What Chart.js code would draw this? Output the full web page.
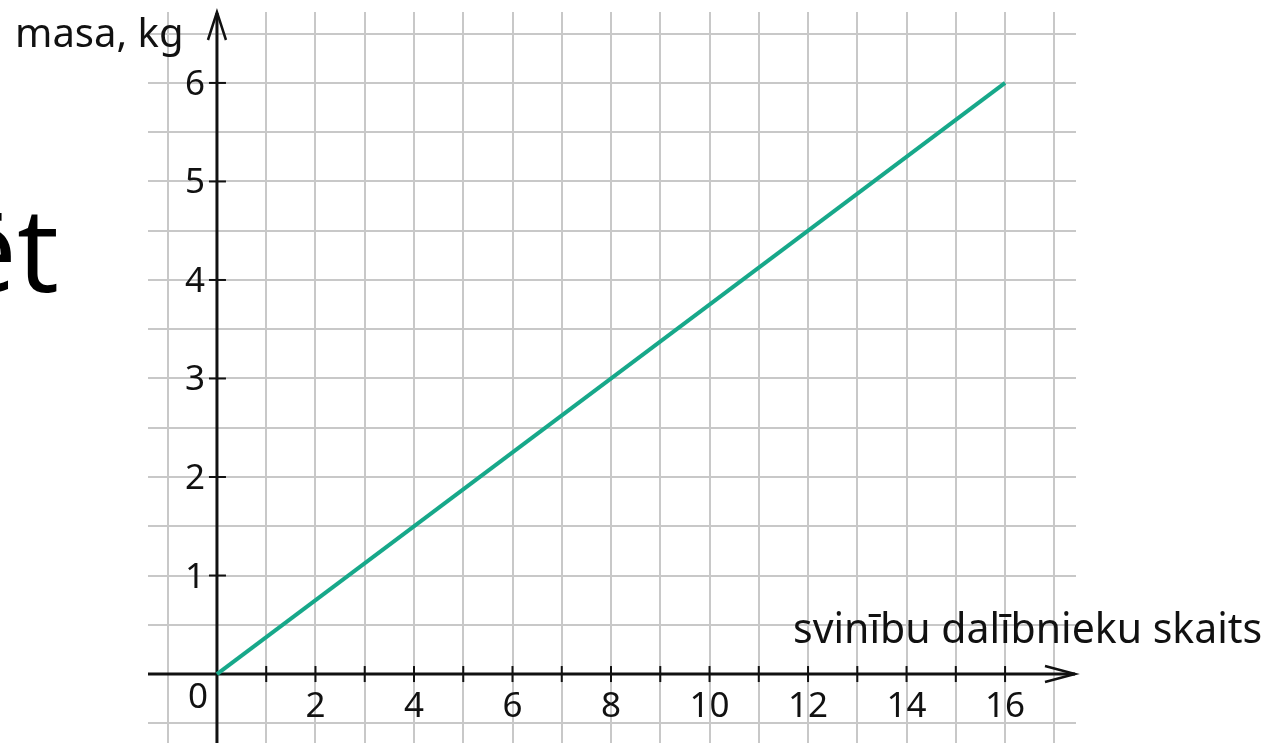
<!DOCTYPE html>
<html>
<head>
<meta charset="utf-8">
<script src="https://cdn.jsdelivr.net/npm/chart.js@4.4.1/dist/chart.umd.min.js"></script>
<style>
  html, body { margin: 0; padding: 0; background: #ffffff; overflow: hidden; }
  #wrap { position: relative; width: 1275px; height: 743px; }
  #chart { position: absolute; left: 0; top: 0; }
  #side { position: absolute; right: 1216px; top: 188px; font-family: "Open Sans", sans-serif;
          font-size: 118px; line-height: 1; color: #000; white-space: nowrap; }
</style>
</head>
<body>
<div id="wrap">
  <canvas id="chart" width="1275" height="743"></canvas>
  <div id="side">ēt</div>
</div>
<script>
// ---- data ----
const xValues = [0, 16];          // svinību dalībnieku skaits
const yValues = [0, 6];           // masa, kg
const xGridValues = [-1, 0, 1, 2, 3, 4, 5, 6, 7, 8, 9, 10, 11, 12, 13, 14, 15, 16, 17];
const yGridValues = [-0.5, 0, 0.5, 1, 1.5, 2, 2.5, 3, 3.5, 4, 4.5, 5, 5.5, 6, 6.5];
const xTickMarks = [1, 2, 3, 4, 5, 6, 7, 8, 9, 10, 11, 12, 13, 14, 15, 16];
const xTickLabels = [2, 4, 6, 8, 10, 12, 14, 16];
const yTickMarks = [1, 2, 3, 4, 5, 6];
const yTickLabels = [1, 2, 3, 4, 5, 6];
const xTitle = "svinību dalībnieku skaits";
const yTitle = "masa, kg";
const originLabel = "0";

const FONT = '"Noto Sans", sans-serif';

const axesPlugin = {
  id: 'axesPlugin',
  beforeDatasetsDraw(chart) {
    const ctx = chart.ctx;
    const xs = chart.scales.x, ys = chart.scales.y;
    const ca = chart.chartArea;
    const x0 = xs.getPixelForValue(0);
    const y0 = ys.getPixelForValue(0);
    ctx.save();
    ctx.strokeStyle = '#111';
    ctx.lineWidth = 3;
    ctx.lineCap = 'butt';
    // x axis
    ctx.beginPath();
    ctx.moveTo(ca.left, y0);
    ctx.lineTo(ca.right - 1, y0);
    ctx.stroke();
    // y axis
    ctx.beginPath();
    ctx.moveTo(x0, chart.height);
    ctx.lineTo(x0, ca.top + 1);
    ctx.stroke();
    // arrows
    ctx.lineWidth = 2.5;
    ctx.beginPath();
    ctx.moveTo(ca.right - 31, y0 - 8);
    ctx.lineTo(ca.right - 1, y0);
    ctx.lineTo(ca.right - 31, y0 + 8);
    ctx.stroke();
    ctx.beginPath();
    ctx.moveTo(x0 - 9, ca.top + 28);
    ctx.lineTo(x0, ca.top);
    ctx.lineTo(x0 + 9, ca.top + 28);
    ctx.stroke();
    // tick marks
    ctx.lineWidth = 2;
    xTickMarks.forEach(v => {
      const px = xs.getPixelForValue(v);
      ctx.beginPath(); ctx.moveTo(px, y0 - 8); ctx.lineTo(px, y0 + 8); ctx.stroke();
    });
    yTickMarks.forEach(v => {
      const py = ys.getPixelForValue(v);
      ctx.beginPath(); ctx.moveTo(x0 - 8, py); ctx.lineTo(x0 + 9, py); ctx.stroke();
    });
    // tick labels
    ctx.fillStyle = '#111';
    ctx.font = '35px ' + FONT;
    ctx.textBaseline = 'alphabetic';
    ctx.textAlign = 'center';
    xTickLabels.forEach(v => {
      ctx.fillText(String(v), xs.getPixelForValue(v), y0 + 43);
    });
    ctx.fillText(originLabel, x0 - 19, y0 + 34);
    ctx.textAlign = 'right';
    yTickLabels.forEach(v => {
      ctx.fillText(String(v), x0 - 12, ys.getPixelForValue(v) + 12);
    });
    // axis titles
    ctx.font = '40px ' + FONT;
    ctx.textAlign = 'left';
    ctx.fillText(yTitle, 15, 47);
    ctx.font = '41px ' + FONT;
    ctx.fillText(xTitle, 793, y0 - 31);
    ctx.restore();
  }
};

new Chart(document.getElementById('chart'), {
  type: 'line',
  data: {
    datasets: [{
      data: xValues.map((x, i) => ({ x: x, y: yValues[i] })),
      borderColor: '#17a88a',
      borderWidth: 4,
      pointRadius: 0,
      fill: false,
      tension: 0
    }]
  },
  options: {
    responsive: false,
    animation: false,
    events: [],
    layout: { padding: { left: 148, right: 199, top: 12, bottom: 0 } },
    plugins: { legend: { display: false }, tooltip: { enabled: false }, title: { display: false } },
    scales: {
      x: {
        type: 'linear', min: -1.4, max: 17.44,
        afterBuildTicks: s => { s.ticks = xGridValues.map(v => ({ value: v })); },
        ticks: { display: false },
        grid: { color: '#c8c8c8', lineWidth: 2, drawTicks: false },
        border: { display: false }
      },
      y: {
        type: 'linear', min: -0.7, max: 6.72,
        afterBuildTicks: s => { s.ticks = yGridValues.map(v => ({ value: v })); },
        ticks: { display: false },
        grid: { color: '#c8c8c8', lineWidth: 2, drawTicks: false },
        border: { display: false }
      }
    }
  },
  plugins: [axesPlugin]
});
</script>
</body>
</html>
